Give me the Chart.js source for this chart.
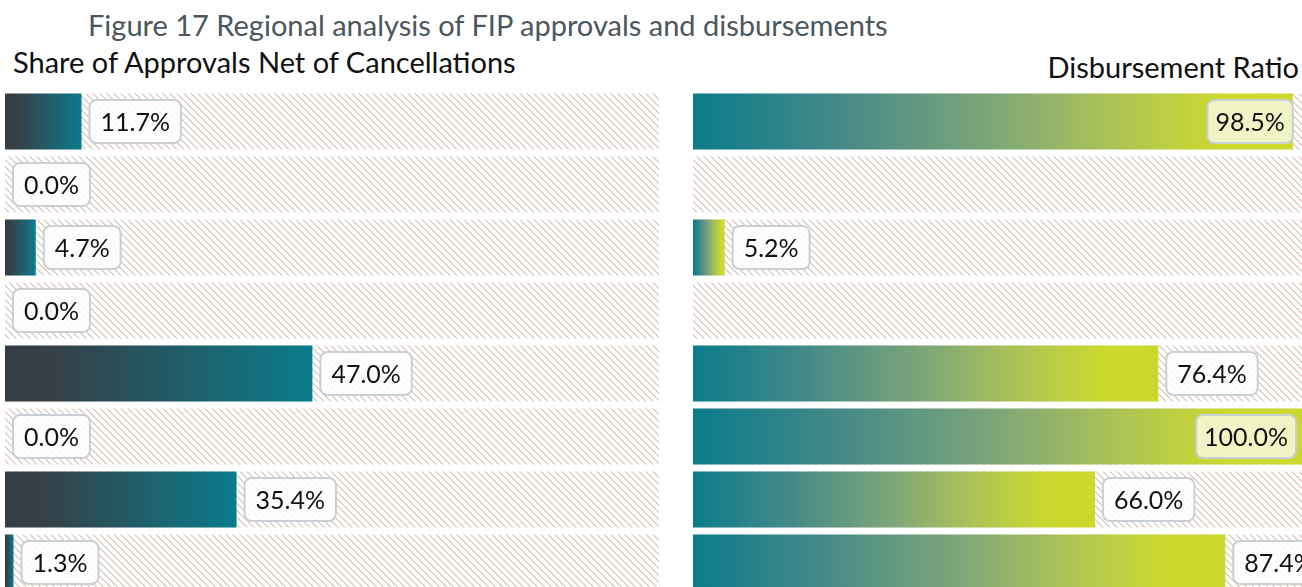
<!DOCTYPE html>
<html>
<head>
<meta charset="utf-8">
<script src="https://cdn.jsdelivr.net/npm/chart.js@4.4.1/dist/chart.umd.min.js"></script>
<style>
  html, body { margin: 0; padding: 0; background: #ffffff; overflow: hidden; }
  body { width: 1302px; height: 587px; position: relative; font-family: Lato, "Open Sans", sans-serif; }
  .txt { position: absolute; white-space: nowrap; line-height: 1; }
  #fig-title { left: 88px; top: 10px; font-size: 29px; color: #4b565e; }
  #left-title { left: 13px; top: 47px; font-size: 29px; color: #111; }
  #right-title { right: 3px; top: 52px; font-size: 29px; color: #111; }
  canvas { position: absolute; }
  #share { left: 5px; top: 90px; }
  #ratio { left: 693px; top: 90px; }
</style>
</head>
<body>
<div class="txt" id="fig-title">Figure 17 Regional analysis of FIP approvals and disbursements</div>
<div class="txt" id="left-title">Share of Approvals Net of Cancellations</div>
<div class="txt" id="right-title">Disbursement Ratio</div>
<canvas id="share" width="654" height="504"></canvas>
<canvas id="ratio" width="609" height="504"></canvas>
<script>
// Rows are not labelled in the figure
const rows = ['Row 1', 'Row 2', 'Row 3', 'Row 4', 'Row 5', 'Row 6', 'Row 7', 'Row 8'];
const approvalShare = [11.7, 0.0, 4.7, 0.0, 47.0, 0.0, 35.4, 1.3];
const disbursementRatio = [98.5, null, 5.2, null, 76.4, 100.0, 66.0, 87.4];
const fullScale = [100, 100, 100, 100, 100, 100, 100, 100];

// colour stops of the bar gradients (position along the bar, colour)
const shareStops = [[0, '#363e45'], [0.15, '#363f46'], [1, '#0a7c8c']];
const ratioStops = [[0, '#0b7b8b'], [0.25, '#468a88'], [0.5, '#7ea678'], [0.7, '#adc355'], [0.88, '#cbd92e'], [1, '#cbd92e']];

// hatched background pattern
function makeHatch() {
    const size = 7;
    const c = document.createElement('canvas');
    c.width = size; c.height = size;
    const g = c.getContext('2d');
    g.fillStyle = '#ded0c9';
    for (let x = 0; x < size; x++) {
        for (let y = 0; y < size; y++) {
            if (((x - y) % size + size) % size < 2) g.fillRect(x, y, 1, 1);
        }
    }
    return g.createPattern(c, 'repeat');
}

// gradient along each bar, from zero to its value
function barGradient(stops) {
    return (ctx) => {
        const chart = ctx.chart;
        const last = stops[stops.length - 1][1];
        if (!chart.chartArea || ctx.raw == null) return last;
        const xs = chart.scales.x;
        const x0 = xs.getPixelForValue(0);
        let x1 = xs.getPixelForValue(ctx.raw);
        if (x1 - x0 < 1) x1 = x0 + 1;
        const grad = chart.ctx.createLinearGradient(x0, 0, x1, 0);
        stops.forEach(s => grad.addColorStop(s[0], s[1]));
        return grad;
    };
}

function roundRect(g, x, y, w, h, r) {
    g.beginPath();
    g.moveTo(x + r, y);
    g.lineTo(x + w - r, y);
    g.arcTo(x + w, y, x + w, y + r, r);
    g.lineTo(x + w, y + h - r);
    g.arcTo(x + w, y + h, x + w - r, y + h, r);
    g.lineTo(x + r, y + h);
    g.arcTo(x, y + h, x, y + h - r, r);
    g.lineTo(x, y + r);
    g.arcTo(x, y, x + r, y, r);
    g.closePath();
}

// value boxes next to (or inside) the bars
const valueBoxes = {
    id: 'valueBoxes',
    afterDatasetsDraw(chart, args, opts) {
        const g = chart.ctx;
        const meta = chart.getDatasetMeta(0);
        const values = chart.data.datasets[0].data;
        g.save();
        g.font = '25px Lato';
        g.textBaseline = 'middle';
        meta.data.forEach((bar, i) => {
            const v = values[i];
            if (v == null) return;
            const text = v.toFixed(1) + '%';
            const inside = v > opts.insideAbove;
            const pad = inside ? 8 : 11;
            const w = g.measureText(text).width + 2 * pad;
            const h = 43;
            const x = inside ? Math.min(bar.x, chart.width - 6) - w : bar.x + 8;
            const y = bar.y - h / 2;
            roundRect(g, x, y, w, h, 7);
            g.fillStyle = inside ? 'rgba(242, 246, 206, 0.95)' : 'rgba(255, 255, 255, 0.88)';
            g.fill();
            g.lineWidth = 2;
            g.strokeStyle = '#c8cfd5';
            g.stroke();
            g.fillStyle = '#111111';
            g.fillText(text, x + pad, bar.y + 1);
        });
        g.restore();
    }
};

function makeChart(id, values, stops) {
    const hatch = makeHatch();
    return new Chart(document.getElementById(id), {
        type: 'bar',
        data: {
            labels: rows,
            datasets: [{
                data: values,
                backgroundColor: barGradient(stops),
                grouped: false,
                categoryPercentage: 1,
                barPercentage: 56 / 63
            }, {
                data: fullScale,
                backgroundColor: hatch,
                grouped: false,
                categoryPercentage: 1,
                barPercentage: 56 / 63
            }]
        },
        options: {
            indexAxis: 'y',
            responsive: false,
            animation: false,
            devicePixelRatio: 1,
            layout: { padding: 0 },
            scales: {
                x: { display: false, min: 0, max: 100 },
                y: { display: false }
            },
            plugins: {
                legend: { display: false },
                tooltip: { enabled: false },
                valueBoxes: { insideAbove: 95 }
            }
        },
        plugins: [valueBoxes]
    });
}

makeChart('share', approvalShare, shareStops);
makeChart('ratio', disbursementRatio, ratioStops);
</script>
</body>
</html>
